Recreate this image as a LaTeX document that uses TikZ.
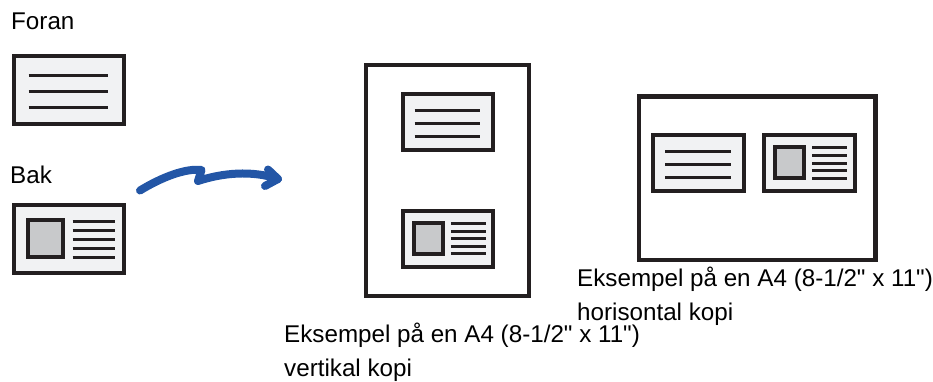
\documentclass[tikz,border=0pt]{standalone}
\usepackage{fontspec}
\setmainfont{Liberation Sans}
\definecolor{cardline}{HTML}{231F20}
\definecolor{cardfill}{HTML}{F1F2F3}
\definecolor{photofill}{HTML}{C8C9CB}
\definecolor{flowblue}{HTML}{2356A6}
\newcommand{\labelfont}{\fontsize{24.2}{34}\selectfont}
\begin{document}
\begin{tikzpicture}[x=1pt, y=-1pt,
    card/.style={draw=cardline, fill=cardfill, line width=4pt},
    photo/.style={draw=cardline, fill=photofill, line width=4pt},
    textline/.style={draw=cardline, line width=3pt},
    page/.style={draw=cardline, line width=4.5pt},
    flow/.style={draw=flowblue, line width=8pt, line cap=round, line join=round},
    labelnode/.style={font=\labelfont, inner sep=0pt, anchor=base west, align=left}]
\useasboundingbox (0,0) rectangle (933,382);
% pages
\draw[page] (366.2,65.2) rectangle (528.8,295.8);
\draw[page] (639,96.6) rectangle (875.4,260);
% front cards
\foreach \cx/\cy/\s in {12.3/54.3/1, 401/92.3/0.825, 651.7/133.3/0.825} {
    \begin{scope}[shift={(\cx,\cy)}, scale=\s]
        \draw[card] (2,2) rectangle (112,70);
        \foreach \ly in {21.7,37.4,53}
            \draw[textline] (16.4,\ly) -- (96,\ly);
    \end{scope}
}
% back cards
\foreach \cx/\cy/\s in {12.3/203.3/1, 401/209/0.825, 762.3/133.3/0.825} {
    \begin{scope}[shift={(\cx,\cy)}, scale=\s]
        \draw[card] (2,2) rectangle (112,70);
        \draw[photo] (15.7,17) rectangle (50.7,54);
        \foreach \ly in {17.7,26.9,36.1,45.3,54.5}
            \draw[textline] (60.4,\ly) -- (102.7,\ly);
    \end{scope}
}
% labels (base = last line)
\node[labelnode] (foran) at (11,30) {Foran};
\node[labelnode] (bak) at (10,183) {Bak};
\node[labelnode] (horisontal) at (577,320) {Eksempel på en A4 (8-1/2\textquotedbl{} x 11\textquotedbl)\\horisontal kopi};
\node[labelnode] (vertikal) at (284,376.5) {Eksempel på en A4 (8-1/2\textquotedbl{} x 11\textquotedbl)\\vertikal kopi};
% arrow
\coordinate (wavestart) at (140,190.5);
\coordinate (wavetop) at (201.5,170);
\coordinate (wavebottom) at (198,181);
\coordinate (wavetip) at (278,179);
\draw[flow] (wavestart) .. controls (162,177) and (186,168) .. (wavetop)
    -- (wavebottom) .. controls (222,173) and (252,170) .. (wavetip);
\draw[flow] (268,169.5) -- (wavetip) -- (265,186);
\end{tikzpicture}
\end{document}
